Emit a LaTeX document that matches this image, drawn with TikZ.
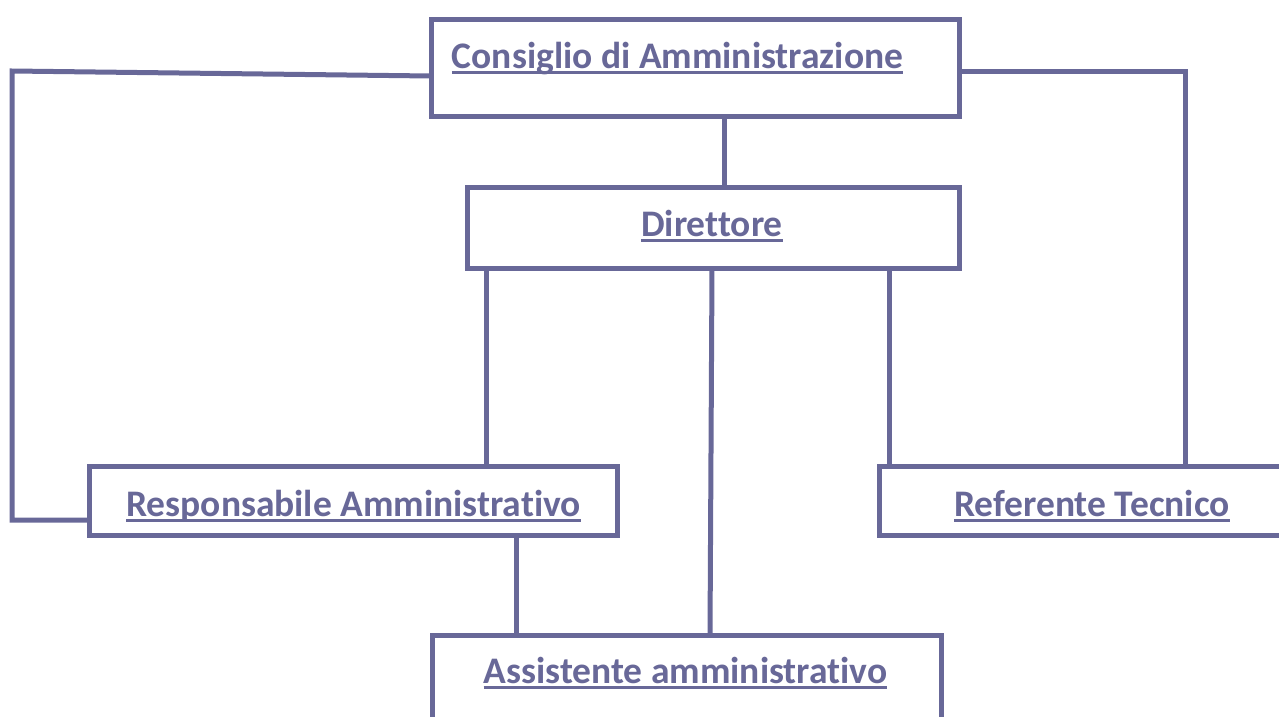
\documentclass[tikz,border=0pt]{standalone}
\usepackage{fontspec}
\setmainfont[Ligatures=NoCommon]{Carlito}
\usepackage{tikz}
\definecolor{slateblue}{RGB}{104, 104, 152}
\newcommand{\ulword}[1]{\setbox0\hbox{#1}\rlap{\rule[-6pt]{\wd0}{2.6pt}}\box0}

\begin{document}
\begin{tikzpicture}[x=1pt, y=-1pt,
    box/.style={draw=slateblue, line width=5pt, fill=white, anchor=north west, inner sep=0pt, outer sep=0pt},
    title/.style={anchor=base, text=slateblue, font=\fontsize{37.5}{44}\selectfont\bfseries, inner sep=0pt},
    link/.style={draw=slateblue, line width=5pt, line join=miter}]
            \useasboundingbox                                                   (0, 0) rectangle (1279, 716);
            \node[box, minimum width=528pt, minimum height=97pt] (cda)  at (431.0,  19.0) {};
            \node[box, minimum width=492pt, minimum height=81pt] (dir)  at (467.0, 187.0) {};
            \node[box, minimum width=528pt, minimum height=69pt] (resp) at ( 89.5, 466.0) {};
            \node[box, minimum width=420pt, minimum height=69pt] (ref)  at (879.5, 466.0) {};
            \node[box, minimum width=509pt, minimum height=120pt] (ass) at (432.0, 635.0) {};
            \node[title] (cdatxt)  at ( 677.5,  68.0) {\ulword{Consiglio di Amministrazione}};
            \node[title] (dirtxt)  at ( 712.0, 236.0) {\ulword{Direttore}};
            \node[title] (resptxt) at ( 353.5, 516.0) {\ulword{Responsabile Amministrativo}};
            \node[title] (reftxt)  at (1092.0, 516.0) {\ulword{Referente Tecnico}};
            \node[title] (asstxt)  at ( 685.5, 683.0) {\ulword{Assistente amministrativo}};
            \coordinate (lefttop) at (  12.0,  71.0);
            \coordinate (leftbot) at (  12.0, 520.0);
            \coordinate (righttop) at (1185.0, 71.0);
            \draw[link] ([yshift=-8.5pt]cda.west) -- (lefttop) -- (leftbot) -- (resp.west |- leftbot);
            \draw[link] (cda.east |- righttop) -- (righttop) -- (righttop |- ref.north);
            \draw[link] ([xshift=29pt]cda.south) -- ([xshift=29pt]cda.south |- dir.north);
            \draw[link] ([xshift=-227pt]dir.south) -- ([xshift=-227pt]dir.south |- resp.north);
            \draw[link] ([xshift=-1pt]dir.south) -- ([xshift=23.5pt]ass.north);
            \draw[link] ([xshift=176pt]dir.south) -- ([xshift=176pt]dir.south |- ref.north);
            \draw[link] ([xshift=163pt]resp.south) -- ([xshift=163pt]resp.south |- ass.north);
        \end{tikzpicture}
\end{document}
